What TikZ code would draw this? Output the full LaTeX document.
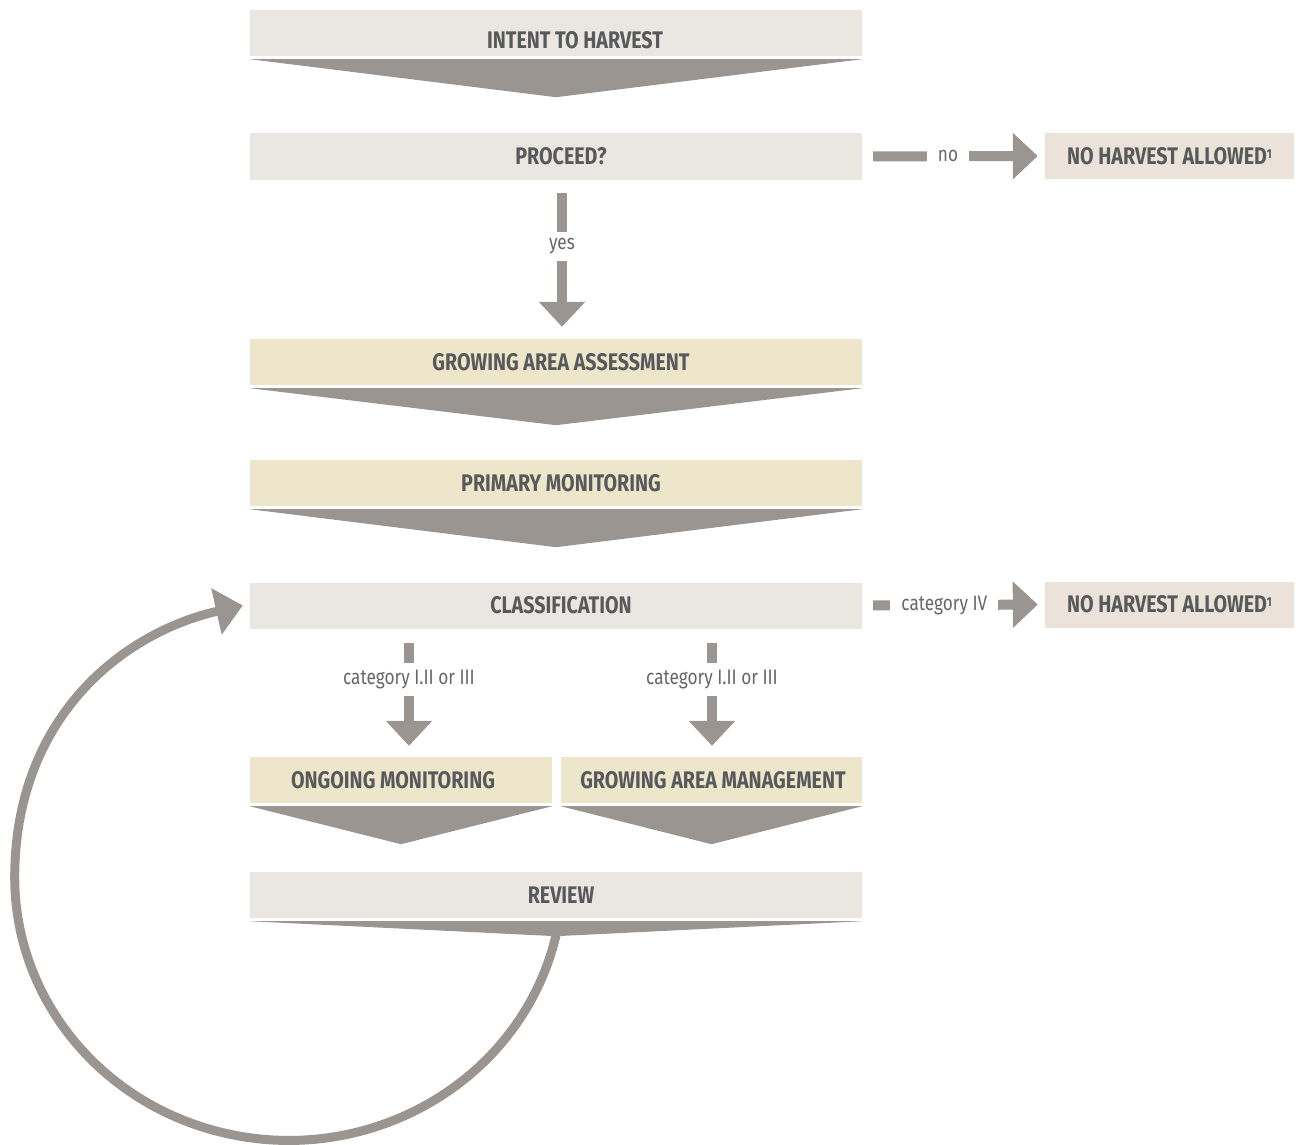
\documentclass[tikz,border=0pt]{standalone}
\usepackage{fontspec}
\setmainfont{Fira Sans}[FakeStretch=0.82]
\usepackage{tikz}
\usetikzlibrary{arrows.meta}
\definecolor{boxgrey}{HTML}{EAE6E2}
\definecolor{boxyellow}{HTML}{EDE6CB}
\definecolor{boxsand}{HTML}{EBE3D9}
\definecolor{arrowgrey}{HTML}{9B9591}
\definecolor{textgrey}{HTML}{58595B}
\definecolor{lblgrey}{HTML}{66676A}
\tikzset{
  box/.style={rectangle, inner sep=0pt, minimum height=46pt, text=textgrey,
    font=\fontsize{24}{27}\selectfont\bfseries},
  widebox/.style={box, fill=boxgrey, minimum width=612pt, execute at begin node=\hspace*{10pt}},
  yellowbox/.style={box, fill=boxyellow},
  stopbox/.style={box, fill=boxsand, minimum width=249pt},
  flow/.style={draw=arrowgrey, line width=10pt, -{Triangle[width=45pt,length=25pt]}},
  lbl/.style={fill=white, text=lblgrey, inner xsep=11pt, inner ysep=7pt,
    font=\fontsize{21}{24}\selectfont},
  loopline/.style={draw=arrowgrey, line width=9pt, -{Triangle[width=46pt,length=27pt]}}
}
% chevron under a box: node, depth of the tip
\newcommand{\chevron}[2]{\fill[arrowgrey] ([yshift=-3pt]#1.south west) -- ([yshift=-3pt]#1.south east) -- ([yshift=-#2pt]#1.south) -- cycle;}
\newcommand{\footone}{\raisebox{6pt}{\fontsize{13}{13}\selectfont 1}}

\begin{document}
\begin{tikzpicture}[x=1pt, y=-1pt]
        \useasboundingbox (0,0) rectangle (1301,1145);

        % main column
        \node[widebox] (intent) at (556,33) {};
        \node[box] (intentlbl) at (575,40) {INTENT TO HARVEST};
        \chevron{intent}{41}
        \node[widebox] (proceed) at (556,156.5) {PROCEED?};
        \node[widebox, fill=boxyellow] (gaa) at (556,362) {GROWING AREA ASSESSMENT};
        \chevron{gaa}{40}
        \node[widebox, fill=boxyellow] (prim) at (556,483) {PRIMARY MONITORING};
        \chevron{prim}{41}
        \node[widebox] (class) at (556,605.5) {CLASSIFICATION};

        % split
        \node[yellowbox, minimum width=302pt, execute at begin node=\hspace*{-16pt}] (ongo) at (401,780) {ONGOING MONITORING};
        \chevron{ongo}{41}
        \node[yellowbox, minimum width=301pt, execute at begin node=\hspace*{3pt}] (gam) at (711.5,780) {GROWING AREA MANAGEMENT};
        \chevron{gam}{41}
        \node[widebox] (review) at (556,895) {REVIEW};
        \chevron{review}{18}

        % side boxes
        \node[stopbox] (nh1) at (1169.5,156) {NO HARVEST ALLOWED\footone};
        \node[stopbox] (nh2) at (1169.5,604.5) {NO HARVEST ALLOWED\footone};

        % arrows
        \draw[flow, shorten <=11pt, shorten >=7pt] (proceed.east) -- node[lbl, pos=0.47] (nolbl) {no} (nh1.west);
        \draw[flow, shorten <=13pt, shorten >=12pt] ([xshift=6pt]proceed.south) -- node[lbl, pos=0.42] (yeslbl) {yes} ([xshift=6pt]gaa.north);
        \draw[flow, shorten <=11pt, shorten >=7pt] (class.east) -- node[lbl, pos=0.45] (ivlbl) {category IV} (nh2.west);
        \draw[flow, shorten <=14pt, shorten >=11pt] ([xshift=8pt]ongo.north |- class.south) -- node[lbl, pos=0.40] (catlblA) {category I.II or III} ([xshift=8pt]ongo.north);
        \draw[flow, shorten <=14pt, shorten >=11pt] ([xshift=0.5pt]gam.north |- class.south) -- node[lbl, pos=0.40] (catlblB) {category I.II or III} ([xshift=0.5pt]gam.north);

        % loop back
        \coordinate (revtip) at ([yshift=-17pt]review.south);
        \draw[loopline] (revtip) arc[start angle=12.7, end angle=180, x radius=274, y radius=263]
            .. controls +(0,-160) and +(-120,27) .. ([xshift=-7pt]class.west);
    \end{tikzpicture}
\end{document}
